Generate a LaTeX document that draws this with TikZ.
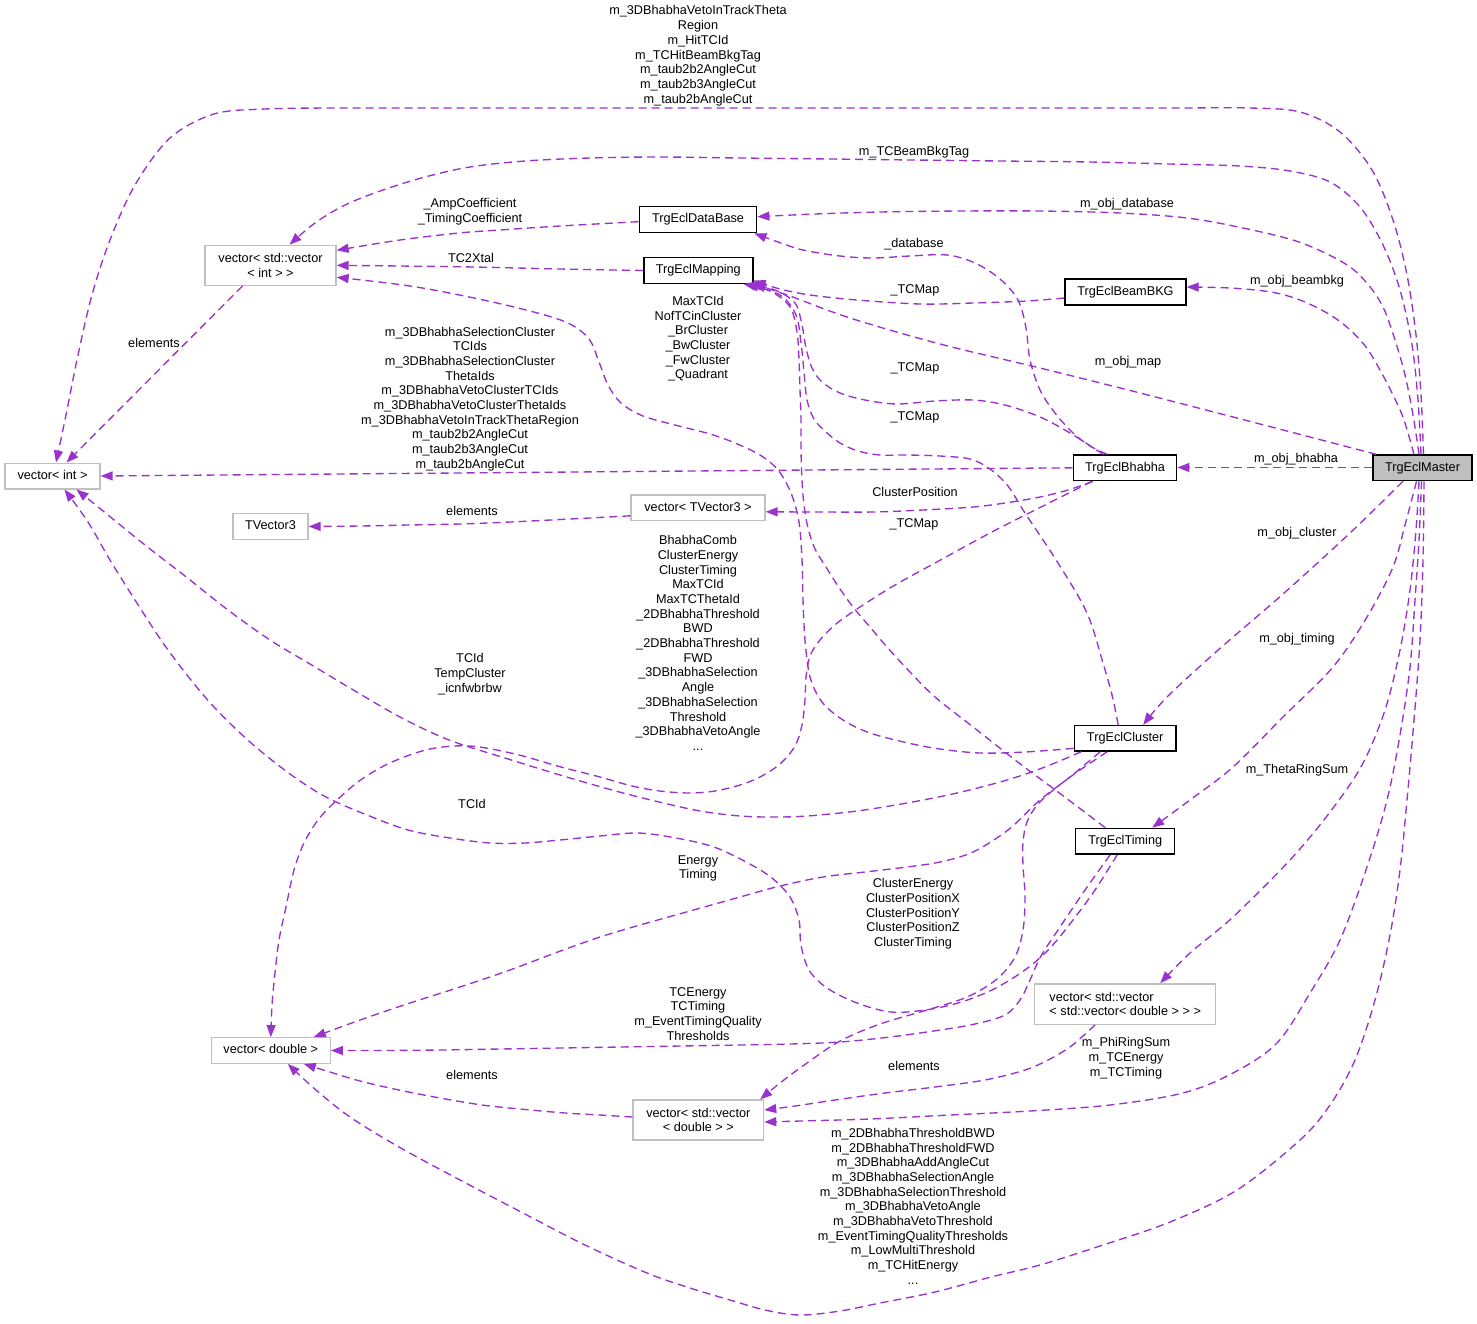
\documentclass[tikz,border=0pt]{standalone}
\usepackage{fontspec}
\setmainfont{Liberation Sans}
\usetikzlibrary{arrows.meta}
\definecolor{edgecol}{HTML}{9A32CD}
\definecolor{rootgray}{HTML}{BFBFBF}
\definecolor{extgray}{HTML}{C0C0C0}
\begin{document}
\begin{tikzpicture}[x=1pt,y=-1pt,
  font=\fontsize{12.7}{14.7}\selectfont,
  cls/.style={draw=black, line width=1.4pt, fill=white, inner sep=0pt},
  ext/.style={draw=extgray, line width=1.3pt, fill=white, inner sep=0pt},
  oneline/.style={text height=9.2pt, text depth=2.7pt},
  lbl/.style={align=center, inner sep=0pt},
  collab/.style={draw=edgecol, line width=1.35pt, dash pattern=on 8pt off 5pt,
    -{Triangle[length=12pt,width=9pt,fill=edgecol]}},
  sm/.style={smooth, tension=0.55}]
\fill[white] (0,0) rectangle (1477,1323);
\useasboundingbox (0,0) rectangle (1477,1323);

% ---------- nodes ----------
\node[cls, oneline, fill=rootgray, minimum width=99pt, minimum height=25.5pt] (master) at (1422.5,467.8) {TrgEclMaster};
\node[cls, oneline, minimum width=103.4pt, minimum height=25.7pt] (bhabha) at (1125,467.8) {TrgEclBhabha};
\node[cls, oneline, minimum width=101.7pt, minimum height=25.5pt] (cluster) at (1125.2,738.3) {TrgEclCluster};
\node[cls, oneline, minimum width=99pt, minimum height=25.7pt] (timing) at (1125.2,841.2) {TrgEclTiming};
\node[cls, oneline, minimum width=121pt, minimum height=26pt] (beambkg) at (1125.5,292) {TrgEclBeamBKG};
\node[cls, oneline, minimum width=117.4pt, minimum height=26pt] (database) at (698,219.7) {TrgEclDataBase};
\node[cls, oneline, minimum width=109pt, minimum height=25.6pt] (mapping) at (698.3,270.5) {TrgEclMapping};
\node[ext, align=center, minimum width=131pt, minimum height=40pt] (vvi) at (270.5,265.3) {vector< std::vector\\< int > >};
\node[ext, oneline, minimum width=95pt, minimum height=25.7pt] (vint) at (52.5,476) {vector< int >};
\node[ext, oneline, minimum width=75pt, minimum height=25.6pt] (tv3) at (270.5,526.5) {TVector3};
\node[ext, oneline, minimum width=134pt, minimum height=25.7pt] (vtv3) at (698,507.8) {vector< TVector3 >};
\node[ext, oneline, minimum width=119pt, minimum height=25.6pt] (vd) at (270.8,1050.5) {vector< double >};
\node[ext, align=center, minimum width=130.6pt, minimum height=40pt] (vvd) at (698.3,1120) {vector< std::vector\\< double > >};
\node[ext, align=left, minimum width=181pt, minimum height=40.3pt] (vvvd) at (1125.2,1004) {vector< std::vector\\< std::vector< double > > >};

% ---------- edges from TrgEclMaster ----------
\draw[collab] plot[sm] coordinates {([xshift=1pt]master.north) (1421,395) (1416,335) (1407,275) (1393,220) (1372,170) (1340,132) (1300,112) (1250,108) (1180,108) (1090,108) (990,108) (890,108) (790,108) (690,108) (590,108) (490,108) (400,108) (330,108) (265,109) (214,114) (170,138) (135,185) (110,240) (92,295) (78,355) (66,415) ([xshift=3.5pt]vint.north)};
\draw[collab] plot[sm] coordinates {([xshift=-1.5pt]master.north) (1418,400) (1412,345) (1400,290) (1383,245) (1360,207) (1330,182) (1290,171) (1240,166) (1170,164) (1090,162) (1000,161) (914,160) (830,159) (740,158) (660,157) (590,158) (525,161) (470,167) (425,177) (383,190) (345,205) (315,223) ([xshift=19pt]vvi.north)};
\draw[collab] plot[sm] coordinates {([xshift=-3.5pt]master.north) (1413,415) (1405,375) (1395,340) (1383,307) (1366,282) (1344,263) (1299,242) (1243,228) (1187,218) (1120,213) (1040,211) (960,211) (880,212) (815,214) ([yshift=3pt]database.east)};
\draw[collab] plot[sm] coordinates {([xshift=-8.5pt]master.north) (1404,420) (1394,397) (1380,370) (1366,347) (1348,328) (1327,313) (1300,300) (1271,292) (1230,288) ([yshift=5pt]beambkg.east)};
\draw[collab] plot[sm] coordinates {([xshift=4pt]master.north west) (1260,424) (1140,393) (1040,368) (940,344) (850,318) (790,296) (mapping.south east)};
\draw[collab] ([yshift=0.3pt]master.west) -- ([yshift=0.3pt]bhabha.east);
\draw[collab] plot[sm] coordinates {([xshift=-19.5pt]master.south) (1350,533) (1283,594) (1217,651) (1167,697) ([xshift=18pt]cluster.north)};
\draw[collab] plot[sm] coordinates {([xshift=-6pt]master.south) (1405,525) (1393,567) (1367,617) (1333,667) (1283,717) (1233,767) (1190,800) ([xshift=27pt]timing.north)};
\draw[collab] plot[sm] coordinates {([xshift=-3.5pt]master.south) (1416,530) (1410,590) (1400,650) (1385,710) (1362,765) (1330,812) (1290,860) (1233,917) (1190,953) ([xshift=35pt]vvvd.north)};
\draw[collab] plot[sm] coordinates {([xshift=-1pt]master.south) (1419,540) (1415,600) (1410,667) (1400,735) (1387,800) (1367,867) (1340,940) (1310,993) (1277,1043) (1233,1073) (1183,1093) (1110,1105) (1030,1111) (950,1115) (870,1119) (800,1121) ([yshift=-2pt]vvd.east)};
\draw[collab] plot[sm] coordinates {([xshift=1.5pt]master.south) (1423,560) (1420,640) (1414,720) (1407,800) (1400,870) (1390,935) (1375,1000) (1355,1060) (1330,1105) (1300,1140) (1237,1190) (1170,1222) (1103,1245) (1040,1265) (991,1277) (935,1292) (880,1303) (840,1311) (800,1315) (765,1310) (730,1300) (690,1288) (647,1273) (585,1245) (523,1213) (460,1180) (399,1147) (350,1117) (316,1090) ([xshift=17pt]vd.south)};

% ---------- other edges ----------
\draw[collab] plot[sm] coordinates {([yshift=-2pt]database.west) (560,226) (500,230) (459,233) (400,240) ([yshift=15pt]vvi.east)};
\draw[collab] plot[sm] coordinates {(mapping.west) (560,269) (474,267) (400,266) (vvi.east)};
\draw[collab] plot[sm] coordinates {([yshift=-10pt]cluster.west) (1025,752) (980,753) (940,749) (908,743) (870,733) (843,720) (822,702) (810,677) (805,640) (803,600) (802,560) (799,522) (791,493) (778,470) (760,455) (735,443) (710,434) (675,425) (643,416) (621,403) (608,385) (599,362) (589,339) (568,323) (530,311) (474,298) (410,286) ([yshift=-12pt]vvi.east)};
\draw[collab] ([xshift=-28pt]vvi.south) -- ([xshift=14pt]vint.north);
\draw[collab] plot[sm] coordinates {([yshift=-6pt]beambkg.west) (1027,301) (973,303) (920,304) (857,300) (810,295) (780,289) ([yshift=-10pt]mapping.east)};
\draw[collab] plot[sm] coordinates {([xshift=-18pt]bhabha.north) (1090,446) (1073,433) (1055,413) (1040,390) (1030,360) (1026,328) (1018,300) (1000,279) (975,263) (947,255) (910,256) (873,258) (840,256) (803,250) (778,242) ([xshift=-3pt]database.south east)};
\draw[collab] plot[sm] coordinates {([xshift=-22pt]bhabha.north) (1070,433) (1040,417) (1005,405) (973,400) (935,401) (897,404) (865,400) (840,393) (822,382) (812,368) (806,348) (802,325) (795,303) (775,290) ([xshift=-4pt]mapping.south east)};
\draw[collab] plot[sm] coordinates {([xshift=-7pt]cluster.north) (1112,695) (1103,663) (1087,613) (1058,563) (1025,513) (1008,486) (990,469) (970,459) (940,456) (907,455) (880,455) (858,451) (840,443) (826,432) (814,419) (807,400) (804,372) (801,343) (796,315) (780,295) ([xshift=-7pt]mapping.south east)};
\draw[collab] plot[sm] coordinates {([xshift=-20pt]timing.north) (1062,795) (1019,763) (977,730) (935,697) (910,672) (887,647) (870,627) (853,607) (838,586) (826,567) (815,549) (808,528) (804,505) (802,480) (801,450) (801,420) (800,390) (799,360) (797,332) (790,307) (770,291) ([xshift=-10pt]mapping.south east)};
\draw[collab] (bhabha.west) -- (vint.east);
\draw[collab] plot[sm] coordinates {([xshift=-32pt]bhabha.south) (1068,490) (1040,497) (1005,503) (973,507) (923,510) (873,512) (820,512) ([yshift=-4pt]vtv3.east)};
\draw[collab] plot[sm] coordinates {([xshift=-33pt]bhabha.south) (1045,505) (990,533) (935,563) (895,585) (860,607) (836,624) (820,640) (810,656) (806,677) (805,700) (802,725) (795,746) (780,764) (760,777) (740,785) (715,791) (689,793) (660,791) (632,786) (600,777) (561,767) (515,754) (470,746) (430,749) (392,762) (362,779) (337,800) (318,820) (304,843) (294,870) (286,907) (279,940) (275,973) (272,1005) (vd.north)};
\draw[collab] plot[sm] coordinates {([xshift=-44pt]cluster.south) (1045,767) (1007,780) (957,793) (907,803) (857,811) (807,816) (773,817) (740,816) (700,811) (655,801) (612,790) (560,775) (505,758) (449,740) (400,717) (350,688) (310,664) (270,640) (228,610) (185,576) (145,545) (108,515) ([xshift=24pt]vint.south)};
\draw[collab] plot[sm] coordinates {([xshift=-8pt]timing.south) (1095,890) (1073,920) (1050,948) (1025,970) (992,990) (958,1003) (925,1010) (891,1012) (857,1003) (827,988) (809,970) (801,945) (799,920) (790,897) (772,878) (748,863) (714,847) (676,838) (638,833) (600,836) (560,840) (525,843) (490,843) (450,838) (408,830) (367,815) (326,797) (290,774) (250,742) (214,707) (187,675) (161,640) (135,600) (110,560) (88,522) ([xshift=12pt]vint.south)};
\draw[collab] plot[sm] coordinates {([xshift=-25pt]cluster.south) (1070,777) (1040,800) (1008,830) (973,852) (940,862) (907,867) (865,872) (823,877) (780,886) (740,897) (690,911) (640,925) (600,937) (555,953) (510,970) (460,987) (410,1003) (360,1020) ([xshift=43pt]vd.north)};
\draw[collab] plot[sm] coordinates {([xshift=-18pt]cluster.south) (1080,770) (1057,787) (1038,804) (1027,822) (1023,842) (1023,865) (1025,897) (1023,930) (1015,957) (997,979) (967,997) (927,1010) (880,1024) (840,1041) (807,1063) (780,1083) ([xshift=-4pt]vvd.north east)};
\draw[collab] plot[sm] coordinates {([xshift=-15pt]timing.south) (1085,890) (1060,927) (1041,956) (1030,980) (1020,1000) (1005,1015) (975,1024) (940,1030) (890,1037) (840,1042) (790,1044) (740,1045) (680,1046) (620,1047) (560,1048) (500,1049) (440,1050) (380,1050.5) (vd.east)};
\draw[collab] plot[sm] coordinates {([xshift=-30pt]vvvd.south) (1083,1036) (1070,1047) (1050,1059) (1025,1070) (985,1080) (935,1087) (885,1093) (835,1100) (795,1106) ([yshift=10pt]vvd.east)};
\draw[collab] plot[sm] coordinates {([yshift=3pt]vvd.west) (600,1115) (565,1113) (520,1109) (482,1105) (440,1098) (399,1090) (360,1081) (330,1072) ([xshift=33pt]vd.south)};
\draw[collab] plot[sm] coordinates {([yshift=-8pt]vtv3.west) (570,519) (510,522) (460,524) (408,525) (360,526) (tv3.east)};

% ---------- labels ----------
\node[lbl] (l01) at (698,55.8) {m\_3DBhabhaVetoInTrackTheta\\Region\\m\_HitTCId\\m\_TCHitBeamBkgTag\\m\_taub2b2AngleCut\\m\_taub2b3AngleCut\\m\_taub2bAngleCut};
\node[lbl] (l02) at (914,152) {m\_TCBeamBkgTag};
\node[lbl] (l03) at (1127,204) {m\_obj\_database};
\node[lbl] (l04) at (470,211.7) {\_AmpCoefficient\\\_TimingCoefficient};
\node[lbl] (l05) at (914,244) {\_database};
\node[lbl] (l06) at (471,258) {TC2Xtal};
\node[lbl] (l07) at (1297,281) {m\_obj\_beambkg};
\node[lbl] (l08) at (915,290) {\_TCMap};
\node[lbl] (l09) at (698,338.8) {MaxTCId\\NofTCinCluster\\\_BrCluster\\\_BwCluster\\\_FwCluster\\\_Quadrant};
\node[lbl] (l10) at (154,343) {elements};
\node[lbl] (l11) at (1128,362) {m\_obj\_map};
\node[lbl] (l12) at (915,368) {\_TCMap};
\node[lbl] (l13) at (470,398.9) {m\_3DBhabhaSelectionCluster\\TCIds\\m\_3DBhabhaSelectionCluster\\ThetaIds\\m\_3DBhabhaVetoClusterTCIds\\m\_3DBhabhaVetoClusterThetaIds\\m\_3DBhabhaVetoInTrackThetaRegion\\m\_taub2b2AngleCut\\m\_taub2b3AngleCut\\m\_taub2bAngleCut};
\node[lbl] (l14) at (915,417) {\_TCMap};
\node[lbl] (l15) at (1296,459) {m\_obj\_bhabha};
\node[lbl] (l16) at (915,492) {ClusterPosition};
\node[lbl] (l17) at (472,511) {elements};
\node[lbl] (l18) at (914,524) {\_TCMap};
\node[lbl] (l19) at (1297,533) {m\_obj\_cluster};
\node[lbl] (l20) at (698,642.9) {BhabhaComb\\ClusterEnergy\\ClusterTiming\\MaxTCId\\MaxTCThetaId\\\_2DBhabhaThreshold\\BWD\\\_2DBhabhaThreshold\\FWD\\\_3DBhabhaSelection\\Angle\\\_3DBhabhaSelection\\Threshold\\\_3DBhabhaVetoAngle\\...};
\node[lbl] (l21) at (1297,639) {m\_obj\_timing};
\node[lbl] (l22) at (470,674) {TCId\\TempCluster\\\_icnfwbrbw};
\node[lbl] (l23) at (1297,770) {m\_ThetaRingSum};
\node[lbl] (l24) at (472,804) {TCId};
\node[lbl] (l25) at (698,868.3) {Energy\\Timing};
\node[lbl] (l26) at (913,913.7) {ClusterEnergy\\ClusterPositionX\\ClusterPositionY\\ClusterPositionZ\\ClusterTiming};
\node[lbl] (l27) at (698,1013.7) {TCEnergy\\TCTiming\\m\_EventTimingQuality\\Thresholds};
\node[lbl] (l28) at (1126,1058) {m\_PhiRingSum\\m\_TCEnergy\\m\_TCTiming};
\node[lbl] (l29) at (914,1066) {elements};
\node[lbl] (l30) at (472,1075) {elements};
\node[lbl] (l31) at (913,1206.2) {m\_2DBhabhaThresholdBWD\\m\_2DBhabhaThresholdFWD\\m\_3DBhabhaAddAngleCut\\m\_3DBhabhaSelectionAngle\\m\_3DBhabhaSelectionThreshold\\m\_3DBhabhaVetoAngle\\m\_3DBhabhaVetoThreshold\\m\_EventTimingQualityThresholds\\m\_LowMultiThreshold\\m\_TCHitEnergy\\...};
\end{tikzpicture}
\end{document}
